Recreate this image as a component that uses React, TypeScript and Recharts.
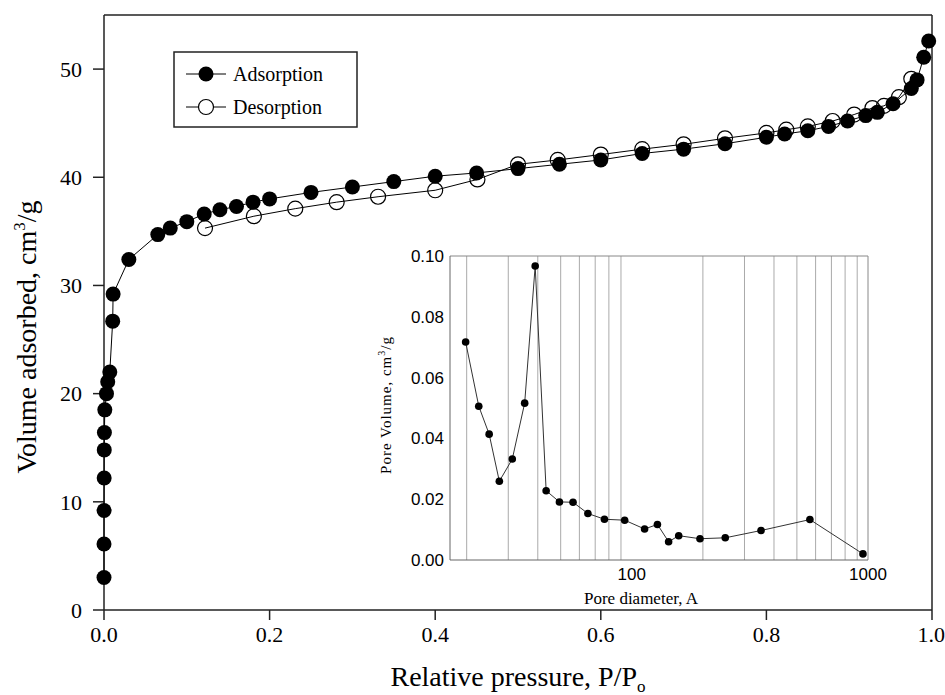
import React from 'react';
import { ScatterChart, Scatter, XAxis, YAxis, ReferenceLine } from 'recharts';

// N2 isotherm
const adsP = [0, 0, 0.0001, 0.0002, 0.0003, 0.0005, 0.001, 0.003, 0.0045, 0.007, 0.0105, 0.011, 0.03, 0.065, 0.08, 0.1, 0.121, 0.14, 0.16, 0.18, 0.2, 0.25, 0.3, 0.35, 0.4, 0.45, 0.5, 0.55, 0.6, 0.65, 0.7, 0.75, 0.8, 0.822, 0.85, 0.875, 0.898, 0.92, 0.934, 0.953, 0.975, 0.982, 0.99, 0.996];
const adsV = [3.0, 6.1, 9.2, 12.2, 14.8, 16.4, 18.5, 20.0, 21.1, 22.0, 26.7, 29.2, 32.4, 34.7, 35.3, 35.9, 36.6, 37.0, 37.3, 37.7, 38.0, 38.6, 39.1, 39.6, 40.1, 40.4, 40.8, 41.2, 41.6, 42.2, 42.6, 43.1, 43.7, 44.0, 44.3, 44.7, 45.2, 45.7, 46.0, 46.8, 48.2, 49.0, 51.1, 52.6];

const desP = [0.122, 0.181, 0.231, 0.281, 0.331, 0.4, 0.451, 0.5, 0.548, 0.6, 0.65, 0.7, 0.75, 0.8, 0.824, 0.85, 0.88, 0.906, 0.928, 0.942, 0.96, 0.975];
const desV = [35.3, 36.4, 37.1, 37.7, 38.2, 38.8, 39.8, 41.2, 41.6, 42.1, 42.6, 43.05, 43.6, 44.1, 44.4, 44.7, 45.2, 45.8, 46.4, 46.6, 47.4, 49.1];

// pore size distribution (inset)
const poreD = [19.8, 22.5, 24.9, 27.5, 31.2, 35.2, 39.0, 43.4, 49.4, 56.4, 65.2, 76.6, 93.3, 113.3, 128.4, 143.2, 158, 194.4, 248.7, 352.5, 567.6, 952];
const poreV = [0.0717, 0.0506, 0.0414, 0.0259, 0.0332, 0.0516, 0.0967, 0.0228, 0.0191, 0.019, 0.0153, 0.0134, 0.0131, 0.0102, 0.0117, 0.006, 0.008, 0.007, 0.0073, 0.0097, 0.0133, 0.002];

const xTicks = [0, 0.2, 0.4, 0.6, 0.8, 1.0];
const yTicks = [0, 10, 20, 30, 40, 50];
const insetYTicks = [0, 0.02, 0.04, 0.06, 0.08, 0.1];
const insetXTicks = [100, 1000];
const insetGrid = [20, 30, 40, 50, 60, 70, 80, 90, 200, 300, 400, 500, 600, 700, 800, 900];

const serif = '"Liberation Serif", "Times New Roman", serif';
const sans = '"Liberation Sans", Arial, sans-serif';

const adsorption = adsP.map((p, i) => ({ p, v: adsV[i] }));
const desorption = desP.map((p, i) => ({ p, v: desV[i] }));
const pores = poreD.map((d, i) => ({ d, v: poreV[i] }));

const FilledDot = (props: any) => <circle cx={props.cx} cy={props.cy} r={7.5} fill="#000" />;
const OpenDot = (props: any) => (
  <circle cx={props.cx} cy={props.cy} r={7.5} fill="none" stroke="#000" strokeWidth={1.2} />
);
const SmallDot = (props: any) => <circle cx={props.cx} cy={props.cy} r={3.8} fill="#000" />;

const YTitle = () => (
  <text transform="translate(36,337) rotate(-90)" textAnchor="middle" fontFamily={serif} fontSize={28} fill="#000">
    Volume adsorbed, cm<tspan dy={-11} fontSize={17}>3</tspan>
    <tspan dy={11}>/g</tspan>
  </text>
);

const XTitle = () => (
  <text x={518} y={686} textAnchor="middle" fontFamily={serif} fontSize={28} fill="#000">
    Relative pressure, P/P<tspan dy={6} fontSize={17}>o</tspan>
  </text>
);

const InsetYTitle = () => (
  <text transform="translate(21,165) rotate(-90)" textAnchor="middle" fontFamily={serif} fontSize={15} letterSpacing={1} fill="#000">
    Pore Volume, cm<tspan dy={-6} fontSize={10}>3</tspan>
    <tspan dy={6}>/g</tspan>
  </text>
);

const InsetXTitle = () => (
  <text x={271} y={364} textAnchor="middle" fontFamily={serif} fontSize={17} fill="#000">
    Pore diameter, A
  </text>
);

const Legend = () => (
  <svg width={186} height={78} style={{ position: 'absolute', left: 173, top: 51 }}>
    <rect x={1} y={1} width={183} height={75} fill="#fff" stroke="#222" strokeWidth={1.5} />
    <line x1={13} x2={53} y1={23} y2={23} stroke="#000" strokeWidth={1} />
    <circle cx={33} cy={23} r={7.5} fill="#000" />
    <text x={60} y={30} fontFamily={serif} fontSize={20} fill="#000">Adsorption</text>
    <line x1={13} x2={53} y1={56} y2={56} stroke="#000" strokeWidth={1} />
    <circle cx={33} cy={56} r={7.5} fill="#fff" stroke="#000" strokeWidth={1.2} />
    <text x={60} y={63} fontFamily={serif} fontSize={20} fill="#000">Desorption</text>
  </svg>
);

export default function App() {
  return (
    <div style={{ position: 'absolute', left: 0, top: 0, width: 945, height: 695, background: '#fff' }}>
      <ScatterChart width={945} height={695} margin={{ top: 15, right: 13, left: 0, bottom: 0 }}>
        <XAxis
          type="number"
          dataKey="p"
          domain={[0, 1]}
          ticks={xTicks}
          tickFormatter={(v) => v.toFixed(1)}
          height={85}
          tickSize={10}
          tickMargin={6}
          stroke="#222"
          strokeWidth={1.5}
          tick={{ fontFamily: serif, fontSize: 22, fill: '#000' }}
          label={{ content: () => <XTitle /> }}
        />
        <YAxis
          type="number"
          dataKey="v"
          domain={[0, 55]}
          ticks={yTicks}
          width={104}
          tickSize={11}
          tickMargin={11}
          stroke="#222"
          strokeWidth={1.5}
          tick={{ fontFamily: serif, fontSize: 22, fill: '#000' }}
          label={{ content: () => <YTitle /> }}
        />
        <ReferenceLine y={55} stroke="#222" strokeWidth={1.5} />
        <ReferenceLine x={1} stroke="#222" strokeWidth={1.5} />
        <Scatter
          data={adsorption}
          line={{ stroke: '#000', strokeWidth: 1 }}
          lineType="joint"
          shape={FilledDot}
          isAnimationActive={false}
        />
        <Scatter
          data={desorption}
          line={{ stroke: '#000', strokeWidth: 1 }}
          lineType="joint"
          shape={OpenDot}
          isAnimationActive={false}
        />
      </ScatterChart>

      <Legend />

      <div style={{ position: 'absolute', left: 370, top: 240 }}>
        <ScatterChart width={545} height={375} margin={{ top: 16, right: 47, left: 0, bottom: 0 }}>
          <XAxis
            type="number"
            dataKey="d"
            scale="log"
            domain={[17, 1000]}
            ticks={insetXTicks}
            allowDataOverflow
            height={55}
            tickLine={false}
            tickSize={0}
            tickMargin={8}
            stroke="#666"
            tick={{ fontFamily: sans, fontSize: 17, fill: '#000' }}
            label={{ content: () => <InsetXTitle /> }}
          />
          <YAxis
            type="number"
            dataKey="v"
            domain={[0, 0.1]}
            ticks={insetYTicks}
            tickFormatter={(v) => v.toFixed(2)}
            width={80}
            tickLine={false}
            tickSize={0}
            tickMargin={6}
            stroke="#666"
            tick={{ fontFamily: sans, fontSize: 17, fill: '#000' }}
            label={{ content: () => <InsetYTitle /> }}
          />
          {insetGrid.map((g) => (
            <ReferenceLine key={g} x={g} stroke="#aaa" strokeWidth={1} />
          ))}
          <ReferenceLine y={0.1} stroke="#888" strokeWidth={1} />
          <ReferenceLine x={1000} stroke="#888" strokeWidth={1} />
          <Scatter
            data={pores}
            line={{ stroke: '#333', strokeWidth: 1 }}
            lineType="joint"
            shape={SmallDot}
            isAnimationActive={false}
          />
        </ScatterChart>
      </div>
    </div>
  );
}
